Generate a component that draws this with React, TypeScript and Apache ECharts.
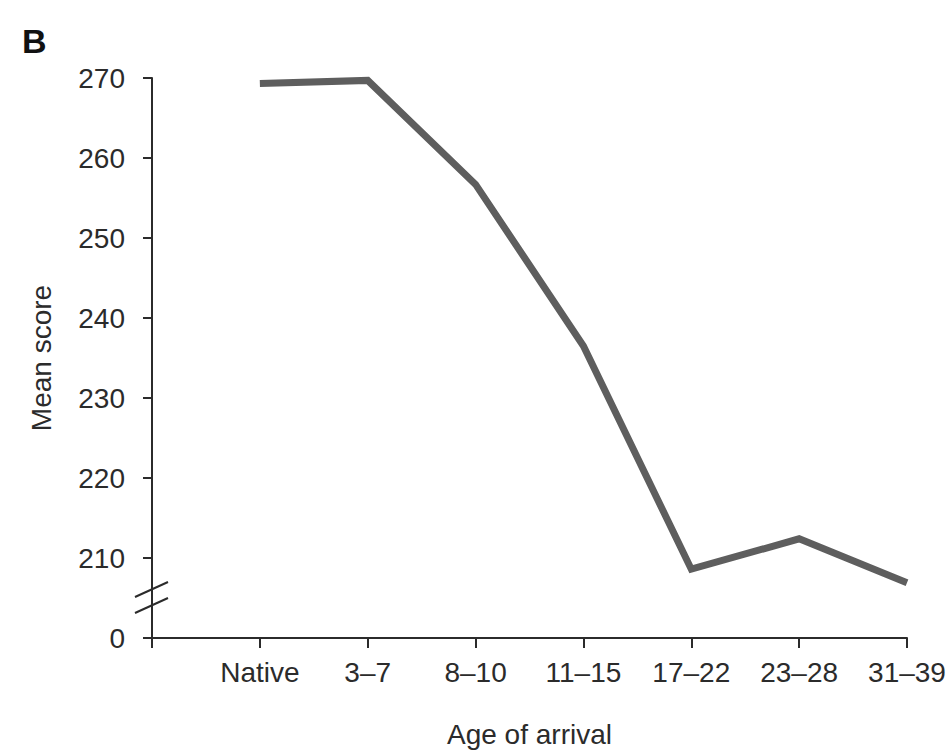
import React, { useEffect, useRef } from "react";
import * as echarts from "echarts";

// Categories (first slot is an empty gap next to the y axis)
const categories = ["", "Native", "3–7", "8–10", "11–15", "17–22", "23–28", "31–39"];
// Mean scores
const meanScores: (number | null)[] = [null, 269.3, 269.7, 256.7, 236.5, 208.6, 212.4, 206.9];
// Y axis: 200 stands for the broken-axis "0"
const yMin = 200;
const yMax = 270;
const yStep = 10;
const yBreakLabel = "0";
const panelLabel = "B";
const xTitle = "Age of arrival";
const yTitle = "Mean score";

const FONT = "'Liberation Sans', Arial, Helvetica, sans-serif";
const INK = "#2b2b2b";

export default function App() {
  const ref = useRef<HTMLDivElement>(null);
  useEffect(() => {
    document.body.style.margin = "0";
    if (!ref.current) return;
    const chart = echarts.init(ref.current, undefined, { renderer: "svg" });
    chart.setOption({
      animation: false,
      backgroundColor: "#ffffff",
      grid: { left: 152, right: 42, top: 78, bottom: 113, containLabel: false },
      xAxis: {
        type: "category",
        data: categories,
        boundaryGap: false,
        name: xTitle,
        nameLocation: "middle",
        nameGap: 82,
        nameTextStyle: { fontFamily: FONT, fontSize: 28, color: INK },
        axisLine: { show: true, lineStyle: { color: INK, width: 2 } },
        axisTick: { show: true, length: 10, alignWithLabel: true, lineStyle: { color: INK, width: 2 } },
        axisLabel: { fontFamily: FONT, fontSize: 28, color: INK, margin: 20, interval: 0 },
        splitLine: { show: false },
      },
      yAxis: {
        type: "value",
        min: yMin,
        max: yMax,
        interval: yStep,
        name: yTitle,
        nameLocation: "middle",
        nameRotate: 90,
        nameGap: 97,
        nameTextStyle: { fontFamily: FONT, fontSize: 28, color: INK },
        axisLine: { show: true, lineStyle: { color: INK, width: 2 } },
        axisTick: { show: true, length: 9, lineStyle: { color: INK, width: 2 } },
        axisLabel: {
          fontFamily: FONT,
          fontSize: 28,
          color: INK,
          margin: 27,
          formatter: (v: number) => (v === yMin ? yBreakLabel : String(v)),
        },
        splitLine: { show: false },
      },
      series: [
        {
          type: "line",
          data: meanScores,
          symbol: "none",
          connectNulls: false,
          lineStyle: { color: "#5e5e5e", width: 7, join: "miter" },
        },
      ],
      graphic: [
        {
          type: "text",
          left: 22,
          top: 24,
          style: { text: panelLabel, font: `bold 34px ${FONT}`, fill: "#111" },
        },
        {
          type: "line",
          shape: { x1: 135, y1: 597, x2: 168, y2: 582 },
          style: { stroke: INK, lineWidth: 2 },
        },
        {
          type: "line",
          shape: { x1: 135, y1: 613, x2: 168, y2: 598 },
          style: { stroke: INK, lineWidth: 2 },
        },
      ],
    });
    return () => chart.dispose();
  }, []);
  return <div ref={ref} style={{ width: 949, height: 753 }} />;
}
